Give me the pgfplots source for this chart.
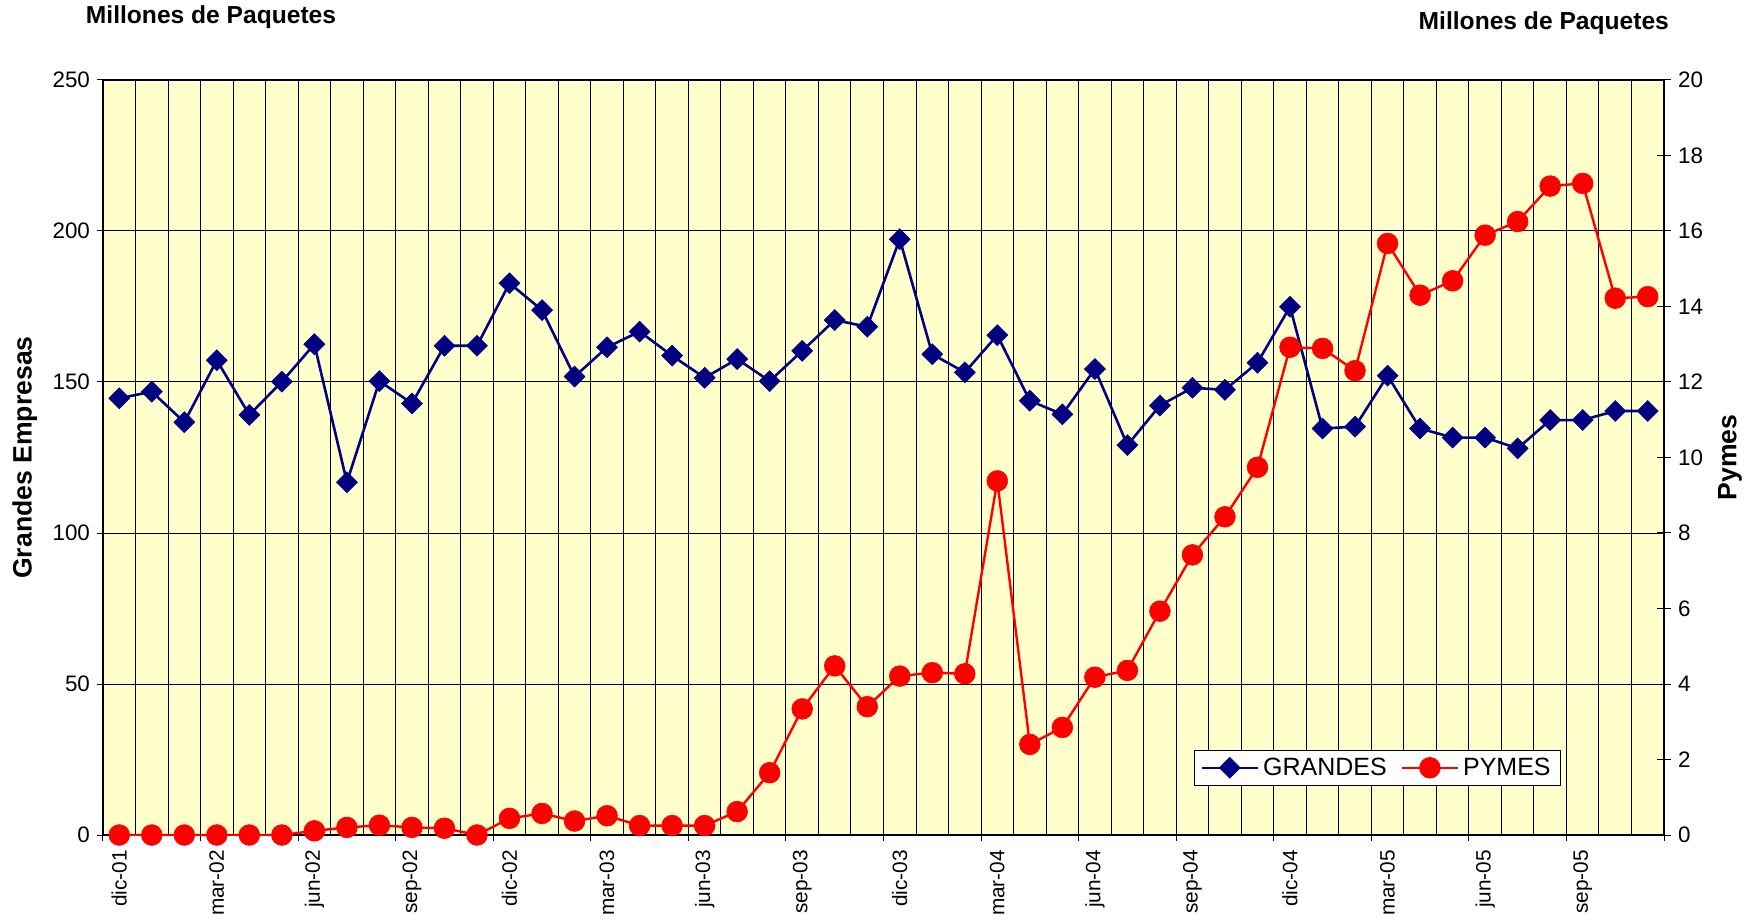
\documentclass[border=0pt]{standalone}
\usepackage{fontspec}
\setmainfont{Liberation Sans}
\usepackage{pgfplots}
\usepackage{pgfplotstable}
\pgfplotsset{compat=1.18}
\definecolor{bgyellow}{RGB}{255,255,204}
\definecolor{navyblue}{RGB}{0,0,128}
\definecolor{pyred}{RGB}{255,0,0}

\pgfplotstableread{
idx grandes pymes
0  144.6 0.00
1  146.8 0.00
2  136.7 0.00
3  157.2 0.00
4  139.1 0.00
5  150.1 0.00
6  162.5 0.11
7  116.8 0.20
8  150.3 0.26
9  142.9 0.20
10 162.0 0.18
11 162.0 0.00
12 182.7 0.44
13 173.8 0.57
14 151.8 0.37
15 161.5 0.51
16 166.7 0.25
17 158.7 0.25
18 151.4 0.25
19 157.6 0.62
20 150.3 1.65
21 160.3 3.34
22 170.5 4.48
23 168.3 3.40
24 197.3 4.21
25 159.2 4.30
26 153.2 4.27
27 165.5 9.38
28 143.8 2.40
29 139.3 2.85
30 154.3 4.18
31 129.1 4.36
32 142.2 5.93
33 148.1 7.42
34 147.4 8.43
35 156.4 9.74
36 174.9 12.92
37 134.6 12.89
38 135.2 12.30
39 152.1 15.67
40 134.6 14.30
41 131.6 14.68
42 131.6 15.89
43 128.0 16.25
44 137.4 17.19
45 137.4 17.26
46 140.4 14.22
47 140.4 14.26
}\datatable

\pgfplotsset{
  grandesstyle/.style={navyblue, line width=1.3pt, mark=square*, mark size=3.7pt,
    mark options={rotate=45, fill=navyblue, draw=navyblue, line width=0.3pt, solid}},
  pymesstyle/.style={pyred, line width=1.2pt, mark=*, mark size=5.2pt,
    mark options={fill=pyred, draw=pyred, line width=0.3pt, solid}},
}

\begin{document}
\begin{tikzpicture}
\path[use as bounding box] (-51.5pt,-43.5pt) rectangle (827.5pt,417.5pt);
\begin{axis}[
  at={(0,0)}, anchor=south west,
  scale only axis, width=780.5pt, height=377.5pt,
  xmin=-0.5, xmax=47.5, ymin=0, ymax=250,
  clip=false,
  axis background/.style={fill=bgyellow},
  axis line style={black, line width=0.6pt},
  xtick={-0.5,2.5,...,47.5}, xticklabels={},
  minor x tick num=2,
  xmajorgrids, xminorgrids, ymajorgrids,
  major grid style={black, line width=0.5pt},
  minor grid style={black, line width=0.5pt},
  minor tick length=0pt,
  extra x ticks={0,3,...,45},
  extra x tick labels={dic-01,mar-02,jun-02,sep-02,dic-02,mar-03,jun-03,sep-03,dic-03,mar-04,jun-04,sep-04,dic-04,mar-05,jun-05,sep-05},
  extra x tick style={major tick length=0pt, grid=none},
  xticklabel shift=4pt,
  xticklabel style={rotate=90, anchor=east, font=\fontsize{10.4}{12}\selectfont},
  ytick={0,50,...,250},
  yticklabel style={font=\fontsize{11.2}{12}\selectfont},
  xtick pos=left, ytick pos=left,
  tick align=outside, major tick length=3pt,
  tick style={black, line width=0.5pt},
  /pgf/number format/assume math mode=true,
  ylabel={Grandes Empresas},
  ylabel style={at={(rel axis cs:-0.0502,0.5)}, anchor=center, font=\fontsize{13.3}{15}\selectfont\bfseries},
]
\addplot[grandesstyle] table[x=idx, y=grandes]{\datatable};
\node[font=\fontsize{12.3}{14}\selectfont\bfseries] at (rel axis cs:0.0692,1.083) {Millones de Paquetes};
\node[font=\fontsize{12.3}{14}\selectfont\bfseries] at (rel axis cs:0.923,1.0755) {Millones de Paquetes};
\end{axis}
\begin{axis}[
  at={(0,0)}, anchor=south west,
  scale only axis, width=780.5pt, height=377.5pt,
  xmin=-0.5, xmax=47.5, ymin=0, ymax=20,
  axis y line*=right, axis x line=none,
  axis line style={black, line width=0.6pt},
  ytick={0,2,...,20},
  yticklabel style={font=\fontsize{11.2}{12}\selectfont},
  tick align=center, major tick length=7pt,
  tick style={black, line width=0.5pt},
  /pgf/number format/assume math mode=true,
  ylabel={Pymes},
  ylabel style={at={(rel axis cs:1.0423,0.5)}, anchor=center, font=\fontsize{13.3}{15}\selectfont\bfseries},
  legend style={at={(rel axis cs:0.8165,0.089)}, anchor=center, draw=black, fill=white,
    line width=0.5pt, inner xsep=3pt, inner ysep=1.5pt,
    font=\fontsize{12.5}{14}\selectfont,
    /tikz/every even column/.append style={column sep=5pt}},
  legend columns=2,
  legend image code/.code={\draw[mark repeat=2, mark phase=2] plot coordinates {(0pt,0pt) (14pt,0pt) (28pt,0pt)};},
]
\addlegendimage{grandesstyle}
\addlegendentry{GRANDES}
\addplot[pymesstyle] table[x=idx, y=pymes]{\datatable};
\addlegendentry{PYMES}
\end{axis}
\end{tikzpicture}
\end{document}
